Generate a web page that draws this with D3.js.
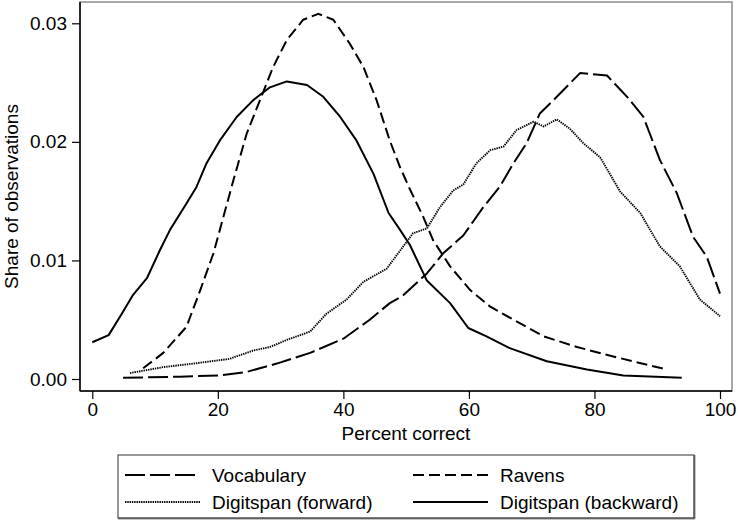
<!DOCTYPE html>
<html>
<head>
<meta charset="utf-8">
<script src="https://cdn.jsdelivr.net/npm/d3@7"></script>
<style>
  html, body { margin: 0; padding: 0; background: #fff; }
  svg { display: block; font-family: "Liberation Sans", Arial, sans-serif; }
</style>
</head>
<body>
<svg id="chart" width="738" height="521"></svg>
<script>
// ---- data ----
const seriesNames = ["Vocabulary", "Ravens", "Digitspan (forward)", "Digitspan (backward)"];

const xVocabulary = [4.9, 14.0, 20.3, 24.6, 29.4, 34.7, 40.0, 44.2, 47.4, 49.4, 53.3, 55.9, 59.1, 62.3, 64.9, 67.1, 69.2, 71.3, 74.0, 77.7, 82.0, 85.2, 87.8, 90.4, 93.1, 95.7, 97.9, 100];
const yVocabulary = [.0001, .0002, .0003, .0006, .0013, .0022, .0034, .0050, .0064, .0070, .0089, .0106, .0121, .0145, .0162, .0182, .0199, .0224, .0238, .0258, .0256, .0238, .0221, .0185, .0157, .0120, .0103, .0072];

const xRavens = [8.1, 11.3, 15.0, 17.2, 19.3, 20.9, 22.5, 24.6, 26.7, 28.8, 31.0, 33.6, 36.0, 38.4, 41.0, 43.2, 45.3, 47.4, 49.0, 50.6, 52.7, 54.3, 57.0, 60.2, 63.4, 67.1, 71.9, 77.2, 83.0, 91.5];
const yRavens = [.0009, .0022, .0044, .0075, .0106, .0137, .0168, .0207, .0235, .0263, .0286, .0303, .0308, .0303, .0283, .0263, .0235, .0201, .0179, .0160, .0137, .0117, .0095, .0075, .0061, .0050, .0036, .0027, .0019, .0008];

const xForward = [6.0, 11.3, 16.1, 21.9, 25.6, 28.3, 31.0, 34.7, 37.3, 40.5, 43.2, 46.9, 49.0, 51.1, 53.3, 55.4, 57.5, 59.1, 61.2, 63.4, 65.5, 67.6, 70.3, 71.9, 74.0, 76.1, 78.2, 80.9, 84.1, 87.3, 90.4, 93.6, 96.8, 100];
const yForward = [.0005, .0010, .0013, .0017, .0024, .0027, .0033, .0040, .0055, .0067, .0082, .0093, .0108, .0123, .0127, .0145, .0159, .0164, .0182, .0193, .0196, .0210, .0217, .0213, .0219, .0211, .0199, .0187, .0158, .0140, .0112, .0095, .0067, .0053];

const xBackward = [0, 2.6, 4.7, 6.5, 8.7, 10.8, 12.4, 15.0, 16.6, 18.2, 20.3, 23.0, 25.6, 28.3, 31.0, 34.2, 36.8, 39.5, 42.1, 44.8, 47.2, 49.0, 50.6, 53.3, 57.0, 59.9, 62.8, 66.5, 72.4, 78.8, 84.6, 93.9];
const yBackward = [.0031, .0037, .0055, .0071, .0085, .0109, .0126, .0148, .0162, .0182, .0201, .0221, .0235, .0246, .0251, .0248, .0238, .0221, .0201, .0173, .0140, .0126, .0113, .0083, .0064, .0043, .0036, .0026, .0015, .0008, .0003, .0001];

const xTicks = [0, 20, 40, 60, 80, 100];
const yTicks = [0, 0.01, 0.02, 0.03];
const xTitle = "Percent correct";
const yTitle = "Share of observations";

// ---- layout ----
const svg = d3.select("#chart");
const frame = { left: 80, top: 2, right: 732, bottom: 391 };
const x = d3.scaleLinear().domain([0, 100]).range([92.3, 720]);
const y = d3.scaleLinear().domain([0, 0.03]).range([379, 23.3]);
const FS = 19;

const styles = [
  { dash: "20,5", width: 2 },
  { dash: "11,5", width: 2 },
  { dash: "1.4,0.9", width: 1.9 },
  { dash: null, width: 2 }
];
const seriesX = [xVocabulary, xRavens, xForward, xBackward];
const seriesY = [yVocabulary, yRavens, yForward, yBackward];

// plot region outline (gray)
svg.append("rect")
  .attr("x", frame.left).attr("y", frame.top)
  .attr("width", frame.right - frame.left).attr("height", frame.bottom - frame.top)
  .attr("fill", "none").attr("stroke", "#8c8c8c").attr("stroke-width", 1.5);

// axes
const yAxis = d3.axisLeft(y).tickValues(yTicks).tickFormat(d3.format(".2f")).tickSize(8).tickPadding(5);
const gy = svg.append("g").attr("transform", `translate(${frame.left},0)`).call(yAxis);
gy.select(".domain").attr("d", `M0,${frame.top}V${frame.bottom}`).attr("stroke", "#000").attr("stroke-width", 1.5);

const xAxis = d3.axisBottom(x).tickValues(xTicks).tickFormat(d3.format("d")).tickSize(8).tickPadding(4);
const gx = svg.append("g").attr("transform", `translate(0,${frame.bottom})`).call(xAxis);
gx.select(".domain").attr("d", `M${frame.left},0H${frame.right}`).attr("stroke", "#000").attr("stroke-width", 1.5);

[gx, gy].forEach(g => {
  g.selectAll(".tick line").attr("stroke", "#000").attr("stroke-width", 1.2);
  g.selectAll(".tick text").attr("font-size", FS).attr("fill", "#000")
    .attr("font-family", "'Liberation Sans', Arial, sans-serif");
});

// axis titles
svg.append("text")
  .attr("x", (frame.left + frame.right) / 2).attr("y", 440)
  .attr("text-anchor", "middle").attr("font-size", FS).attr("fill", "#000")
  .text(xTitle);
svg.append("text")
  .attr("transform", `translate(17.5,${(frame.top + frame.bottom) / 2}) rotate(-90)`)
  .attr("text-anchor", "middle").attr("font-size", FS).attr("fill", "#000")
  .text(yTitle);

// lines
const line = d3.line().x(d => x(d[0])).y(d => y(d[1]));
seriesNames.forEach((name, i) => {
  const pts = seriesX[i].map((v, j) => [v, seriesY[i][j]]);
  svg.append("path")
    .datum(pts)
    .attr("d", line)
    .attr("fill", "none")
    .attr("stroke", "#000")
    .attr("stroke-width", styles[i].width)
    .attr("stroke-dasharray", styles[i].dash)
    .attr("stroke-linejoin", "round");
});

// legend
const lg = { left: 118, top: 455, right: 694, bottom: 518 };
svg.append("line").attr("x1", lg.right + 0.5).attr("x2", lg.right + 0.5).attr("y1", lg.top).attr("y2", lg.bottom + 1)
  .attr("stroke", "#8c8c8c").attr("stroke-width", 2);
svg.append("line").attr("x1", lg.left).attr("x2", lg.right + 1).attr("y1", lg.bottom + 0.5).attr("y2", lg.bottom + 0.5)
  .attr("stroke", "#8c8c8c").attr("stroke-width", 2);
svg.append("rect")
  .attr("x", lg.left).attr("y", lg.top)
  .attr("width", lg.right - lg.left).attr("height", lg.bottom - lg.top)
  .attr("fill", "none").attr("stroke", "#333").attr("stroke-width", 1);

const colX = [125, 413];
const rowY = [475, 502];
seriesNames.forEach((name, i) => {
  const cx = colX[i % 2], cy = rowY[Math.floor(i / 2)];
  svg.append("line")
    .attr("x1", cx).attr("x2", cx + 75).attr("y1", cy).attr("y2", cy)
    .attr("stroke", "#000").attr("stroke-width", styles[i].width)
    .attr("stroke-dasharray", styles[i].dash);
  svg.append("text")
    .attr("x", cx + 87).attr("y", cy).attr("dy", "0.35em")
    .attr("font-size", FS).attr("fill", "#000")
    .text(name);
});
</script>
</body>
</html>
